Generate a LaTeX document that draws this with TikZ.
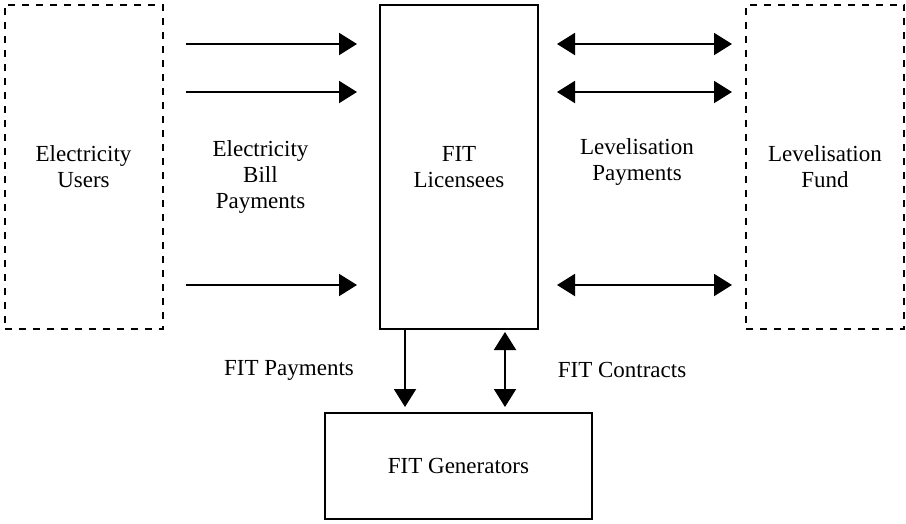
\documentclass[tikz,border=0pt]{standalone}
\usepackage{fontspec}
\setmainfont{Liberation Serif}
\usetikzlibrary{arrows.meta}
\begin{document}
\begin{tikzpicture}[x=1pt,y=-1pt,
  every node/.style={font=\fontsize{23}{26}\selectfont, align=center, inner sep=0pt},
  solidbox/.style={draw, line width=2pt, rectangle},
  dashbox/.style={draw, line width=2pt, rectangle, dash pattern=on 7pt off 7pt},
  arr/.style={line width=2pt, -{Triangle[length=18pt,width=22pt]}},
  darr/.style={line width=2pt, {Triangle[length=18pt,width=22pt]}-{Triangle[length=18pt,width=22pt]}}
]
\useasboundingbox (0,0) rectangle (906,523);
\node[dashbox, minimum width=158pt, minimum height=324.5pt] (users) at (83.5,166.75) {Electricity\\Users};
\node[solidbox, minimum width=158pt, minimum height=324.5pt] (lic) at (459,166.75) {FIT\\Licensees};
\node[dashbox, minimum width=158pt, minimum height=324.5pt] (fund) at (825,166.75) {Levelisation\\Fund};
\node[solidbox, minimum width=267pt, minimum height=106pt] (gen) at (458.5,466) {FIT Generators};

\node (billlbl) at (260.5,177) {Electricity\\Bill\\Payments};
\node (levlbl) at (637,162) {Levelisation\\Payments};
\node (fitpay) at (289,370) {FIT Payments};
\node (fitcon) at (622,370) {FIT Contracts};

\foreach \yy in {44,92,285}{
  \draw[arr, shorten <=22pt, shorten >=22pt] (users.east |- 0,\yy) -- (lic.west |- 0,\yy);
  \draw[darr, shorten <=18pt, shorten >=13pt] (lic.east |- 0,\yy) -- (fund.west |- 0,\yy);
}
\draw[arr, shorten >=5pt] (lic.south -| 405,0) -- (gen.north -| 405,0);
\draw[darr, shorten <=2pt, shorten >=5pt] (lic.south -| 505,0) -- (gen.north -| 505,0);
\end{tikzpicture}
\end{document}
